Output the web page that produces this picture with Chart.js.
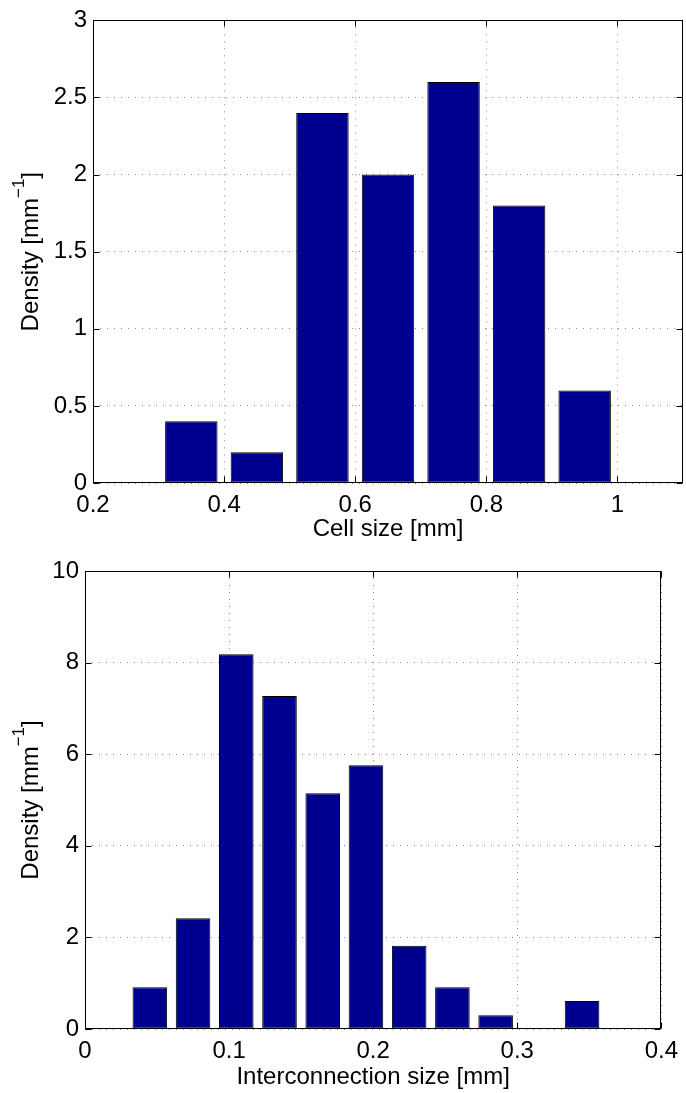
<!DOCTYPE html>
<html><head><meta charset="utf-8">
<script src="https://cdn.jsdelivr.net/npm/chart.js@4.4.0/dist/chart.umd.min.js"></script>
<style>
html,body{margin:0;padding:0;background:#fff;}
#wrap{position:relative;width:686px;height:1093px;}
.box{position:absolute;left:0;width:686px;}
</style></head><body>
<div id="wrap">
<div class="box" style="top:0;height:545px"><canvas id="c1"></canvas></div>
<div class="box" style="top:545px;height:548px"><canvas id="c2"></canvas></div>
</div>
<script>
// ---- data ----
const cellCenters = [0.35, 0.45, 0.55, 0.65, 0.75, 0.85, 0.95];
const cellDensity = [0.4, 0.2, 2.4, 2.0, 2.6, 1.8, 0.6];
const cellXTicks = [0.2, 0.4, 0.6, 0.8, 1.0];
const cellYTicks = [0, 0.5, 1, 1.5, 2, 2.5, 3];

const interCenters = [0.045, 0.075, 0.105, 0.135, 0.165, 0.195, 0.225, 0.255, 0.285, 0.315, 0.345];
const interDensity = [0.91, 2.42, 8.18, 7.27, 5.15, 5.76, 1.82, 0.91, 0.30, 0, 0.61];
const interXTicks = [0, 0.1, 0.2, 0.3, 0.4];
const interYTicks = [0, 2, 4, 6, 8, 10];

const FONT = '"Liberation Sans", Arial, Helvetica, sans-serif';

const yTitlePlugin = {
  id: 'yTitle',
  afterDraw(chart, args, opts) {
    const ctx = chart.ctx, a = chart.chartArea;
    const cy = (a.top + a.bottom) / 2;
    ctx.save();
    ctx.translate(opts.x, cy);
    ctx.rotate(-Math.PI / 2);
    ctx.fillStyle = '#000';
    ctx.textBaseline = 'alphabetic';
    ctx.textAlign = 'left';
    const parts = [
      [opts.pre, '24px ' + FONT, 0],
      [opts.sup, '17px ' + FONT, -14],
      [opts.post, '24px ' + FONT, 0]
    ];
    let total = 0;
    const widths = parts.map(p => { ctx.font = p[1]; const w = ctx.measureText(p[0]).width; total += w; return w; });
    let x = -total / 2;
    parts.forEach((p, i) => { ctx.font = p[1]; ctx.fillText(p[0], x, p[2]); x += widths[i]; });
    ctx.restore();
  }
};

const boxPlugin = {
  id: 'boxTicks',
  afterDraw(chart) {
    const {ctx, chartArea: a, scales} = chart;
    const L = Math.round(a.left) + 0.5, R = Math.round(a.right) - 0.5;
    const T = Math.round(a.top) + 0.5, B = Math.round(a.bottom) - 0.5;
    ctx.save();
    ctx.strokeStyle = '#000';
    ctx.lineWidth = 1;
    ctx.beginPath();
    scales.x.ticks.forEach(t => {
      const px = Math.round(scales.x.getPixelForValue(t.value)) + 0.5;
      ctx.moveTo(px, B); ctx.lineTo(px, B - 6);
      ctx.moveTo(px, T); ctx.lineTo(px, T + 6);
    });
    scales.y.ticks.forEach(t => {
      const py = Math.round(scales.y.getPixelForValue(t.value)) + 0.5;
      ctx.moveTo(L, py); ctx.lineTo(L + 6, py);
      ctx.moveTo(R, py); ctx.lineTo(R - 6, py);
    });
    ctx.stroke();
    ctx.strokeRect(L, T, R - L, B - T);
    ctx.restore();
  }
};

function fmt(v) { return String(Math.round(v * 1000) / 1000); }

function makeChart(id, centers, vals, xTicks, yTicks, xmin, xmax, ymax, xTitle, yW, padTop, padRight, xH) {
  return new Chart(document.getElementById(id), {
    type: 'bar',
    data: {
      datasets: [{
        data: centers.map((x, i) => ({x: x, y: vals[i]})),
        backgroundColor: '#00008F',
        borderColor: '#000',
        borderWidth: 1,
        borderSkipped: false,
        categoryPercentage: 1.0,
        barPercentage: 0.8
      }]
    },
    options: {
      responsive: true,
      maintainAspectRatio: false,
      animation: false,
      layout: {padding: {top: padTop, right: padRight, left: 0, bottom: 0}},
      plugins: {
        legend: {display: false},
        tooltip: {enabled: false},
        yTitle: {x: 38, pre: 'Density [mm', sup: '\u22121', post: ']'}
      },
      scales: {
        x: {
          type: 'linear',
          offset: false,
          min: xmin, max: xmax,
          afterBuildTicks: s => { s.ticks = xTicks.map(v => ({value: v})); },
          afterFit: s => { s.height = xH; },
          grid: {offset: false, color: '#8a8a8a', lineWidth: 1, drawTicks: false, tickBorderDash: [1, 6]},
          border: {display: false, dash: [1, 6]},
          ticks: {color: '#000', font: {family: FONT, size: 24}, padding: 8, maxRotation: 0, autoSkip: false, callback: v => fmt(v)},
          title: {display: true, text: xTitle, color: '#000', font: {family: FONT, size: 24}, padding: {top: 0, bottom: 1}}
        },
        y: {
          min: 0, max: ymax,
          afterBuildTicks: s => { s.ticks = yTicks.map(v => ({value: v})); },
          afterFit: s => { s.width = yW; },
          grid: {color: '#8a8a8a', lineWidth: 1, drawTicks: false},
          border: {display: false, dash: [1, 6]},
          ticks: {color: '#000', font: {family: FONT, size: 24}, padding: 6, autoSkip: false, callback: v => fmt(v)}
        }
      }
    },
    plugins: [yTitlePlugin, boxPlugin]
  });
}

makeChart('c1', cellCenters, cellDensity, cellXTicks, cellYTicks, 0.2, 1.1, 3, 'Cell size [mm]', 93, 17, 3, 62);
makeChart('c2', interCenters, interDensity, interXTicks, interYTicks, 0, 0.4, 10, 'Interconnection size [mm]', 85, 26, 19, 64);
</script>
</body></html>
